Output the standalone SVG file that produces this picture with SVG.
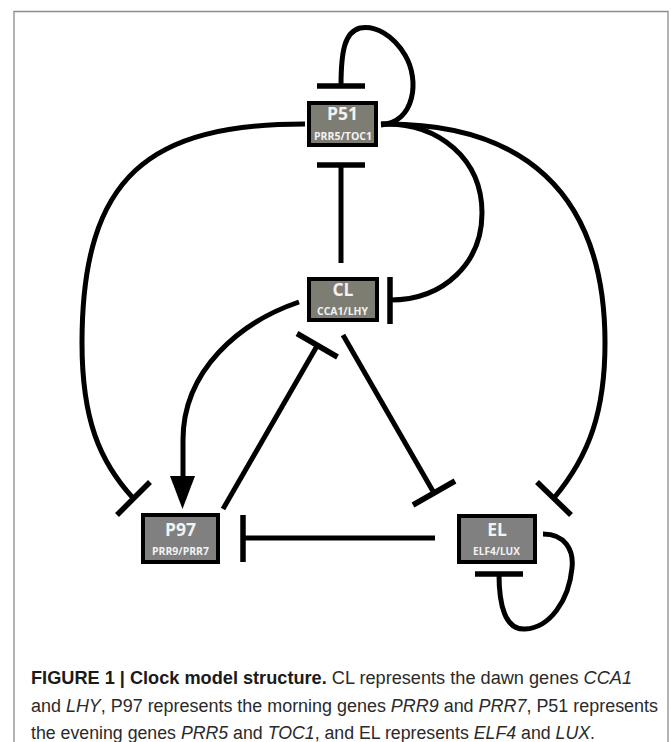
<svg xmlns="http://www.w3.org/2000/svg" width="671" height="742" viewBox="0 0 671 742">
  <style>
    .frame { fill: none; stroke: #8c8c8c; stroke-width: 1.3; }
    .box1 { fill: #7d7d74; stroke: #000; stroke-width: 4; }
    .box2 { fill: #808080; stroke: #000; stroke-width: 4; }
    .t1 { font-family: "Open Sans", "DejaVu Sans", sans-serif; font-weight: 700; font-size: 17.5px; fill: #f2f2f2; text-anchor: middle; }
    .t2 { font-family: "Open Sans", "DejaVu Sans", sans-serif; font-weight: 700; font-size: 10.5px; fill: #f2f2f2; text-anchor: middle; }
    .edge { fill: none; stroke: #000; stroke-width: 5; stroke-linecap: butt; }
    .bar { fill: none; stroke: #000; stroke-width: 5.5; stroke-linecap: butt; }
    .cap { font-family: "Liberation Sans", Arial, sans-serif; font-size: 18px; fill: #2a2a2a; }
    .capb { font-weight: 700; fill: #1a1a1a; }
    .it { font-style: italic; }
  </style>

  <path class="frame" d="M14,745 V11.5 H668 V745"/>

  <g id="connectors">
    <!-- P51 self-inhibition -->
    <path class="edge" d="M381,125 C415,122 420,80 405,55 C393,35 375,25 360,28 C345,32 341,50 341,86"/>
    <line class="bar" x1="317" y1="86" x2="365" y2="86"/>
    <!-- CL -| P51 -->
    <line class="edge" x1="341" y1="263" x2="341" y2="165"/>
    <line class="bar" x1="317" y1="165" x2="365" y2="165"/>
    <!-- P51 -| CL -->
    <path class="edge" d="M381,124 C440,122 482,160 482,213 C482,262 445,300 390,300"/>
    <line class="bar" x1="390" y1="277" x2="390" y2="324"/>
    <!-- P51 -| EL -->
    <path class="edge" d="M381,124 C520,122 605,190 605,343 C605,410 590,455 554,498"/>
    <line class="bar" x1="537" y1="482" x2="571" y2="515"/>
    <!-- P51 -| P97 -->
    <path class="edge" d="M305,124 C150,124 82,175 82,343 C82,420 100,462 133,498"/>
    <line class="bar" x1="117" y1="515" x2="150" y2="482"/>
    <!-- CL -> P97 -->
    <path class="edge" d="M299,302 C240,322 183,370 183,440 L183,480"/>
    <polygon points="170,476 195,476 182.5,509" fill="#000"/>
    <!-- P97 -| CL -->
    <line class="edge" x1="223" y1="509" x2="317" y2="346"/>
    <line class="bar" x1="297" y1="333.5" x2="337.5" y2="357"/>
    <!-- CL -| EL -->
    <line class="edge" x1="343" y1="335" x2="434" y2="493"/>
    <line class="bar" x1="413" y1="505" x2="455" y2="481"/>
    <!-- EL -| P97 -->
    <line class="edge" x1="435" y1="538" x2="243" y2="538"/>
    <line class="bar" x1="243" y1="515" x2="243" y2="562"/>
    <!-- EL self-inhibition -->
    <path class="edge" d="M543,534 C565,534 574,550 572,568 C569,600 550,628 525,629 C505,630 499,605 499,574"/>
    <line class="bar" x1="475" y1="574" x2="523" y2="574"/>
  </g>

  <g id="P51">
    <rect class="box1" x="309" y="103" width="67" height="42"/>
    <text class="t1" x="342.5" y="119.5">P51</text>
    <text class="t2" x="343" y="140" textLength="58" lengthAdjust="spacingAndGlyphs">PRR5/TOC1</text>
  </g>
  <g id="CL">
    <rect class="box1" x="309" y="279" width="68" height="41"/>
    <text class="t1" x="343" y="295.5">CL</text>
    <text class="t2" x="342.5" y="315" textLength="51" lengthAdjust="spacingAndGlyphs">CCA1/LHY</text>
  </g>
  <g id="P97">
    <rect class="box2" x="143" y="515" width="75" height="47"/>
    <text class="t1" x="180.5" y="535.5">P97</text>
    <text class="t2" x="180.5" y="555" textLength="57" lengthAdjust="spacingAndGlyphs">PRR9/PRR7</text>
  </g>
  <g id="EL">
    <rect class="box2" x="459" y="516" width="76" height="46"/>
    <text class="t1" x="497" y="535.5">EL</text>
    <text class="t2" x="496.5" y="555" textLength="47" lengthAdjust="spacingAndGlyphs">ELF4/LUX</text>
  </g>

  <g id="caption">
    <text class="cap" x="31" y="684" textLength="601" lengthAdjust="spacingAndGlyphs"><tspan class="capb">FIGURE 1 | Clock model structure.</tspan> CL represents the dawn genes <tspan class="it">CCA1</tspan></text>
    <text class="cap" x="31" y="711.5" textLength="627" lengthAdjust="spacingAndGlyphs">and <tspan class="it">LHY</tspan>, P97 represents the morning genes <tspan class="it">PRR9</tspan> and <tspan class="it">PRR7</tspan>, P51 represents</text>
    <text class="cap" x="31" y="739" textLength="564" lengthAdjust="spacingAndGlyphs">the evening genes <tspan class="it">PRR5</tspan> and <tspan class="it">TOC1</tspan>, and EL represents <tspan class="it">ELF4</tspan> and <tspan class="it">LUX</tspan>.</text>
  </g>
</svg>
